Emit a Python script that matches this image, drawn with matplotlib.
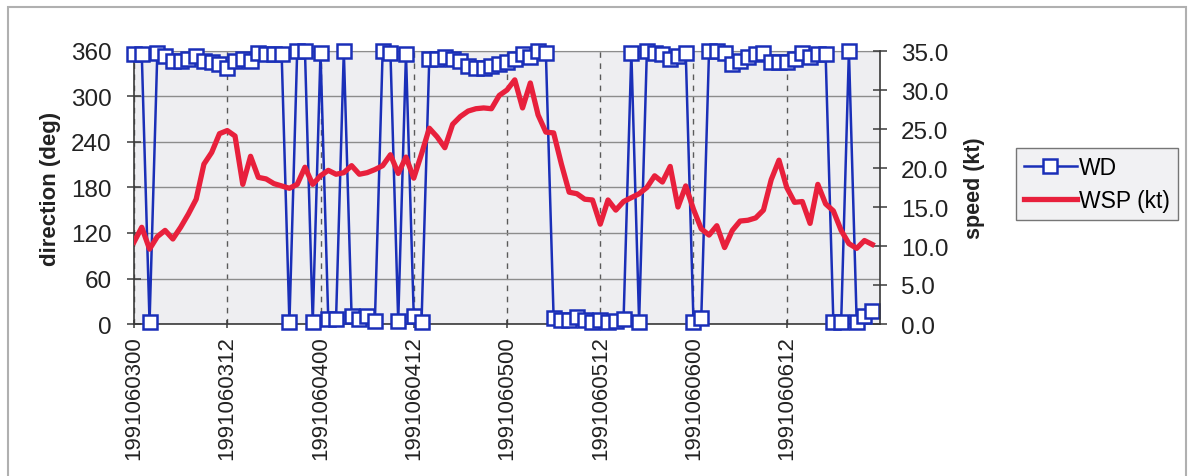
import numpy as np
import matplotlib
matplotlib.use('Agg')
import matplotlib.pyplot as plt
from matplotlib.lines import Line2D
from matplotlib.patches import Rectangle
from matplotlib.ticker import FormatStrFormatter

plt.rcParams['font.family'] = ['Liberation Sans', 'DejaVu Sans']

# hourly observations from 1991060300 to 1991060623
hours = np.arange(96)
tick_pos = [0, 12, 24, 36, 48, 60, 72, 84]
tick_labels = ['1991060300', '1991060312', '1991060400', '1991060412',
               '1991060500', '1991060512', '1991060600', '1991060612']

wd = [356, 356, 2, 358, 354, 347, 347, 349, 354, 347, 345, 343, 338, 347, 349, 347,
      358, 356, 356, 356, 2, 360, 360, 2, 358, 6, 6, 360, 11, 6, 11, 4,
      360, 358, 4, 356, 11, 2, 350, 350, 352, 350, 347, 340, 338, 338, 340, 343,
      345, 350, 356, 352, 360, 358, 8, 5, 5, 9, 5, 3, 5, 3, 4, 6,
      358, 3, 360, 358, 356, 349, 354, 358, 2, 8, 360, 360, 358, 343, 347, 352,
      356, 358, 345, 345, 345, 349, 358, 352, 356, 356, 2, 2, 360, 3, 11, 17]

wsp = [10.5, 12.4, 9.6, 11.2, 12.0, 10.9, 12.4, 14.1, 16.0, 20.5, 22.0, 24.4, 24.8, 24.1, 17.9, 21.5,
       18.8, 18.6, 18.0, 17.7, 17.4, 17.9, 20.1, 17.9, 19.0, 19.7, 19.2, 19.4, 20.3, 19.2, 19.4, 19.8,
       20.3, 21.7, 19.3, 21.4, 18.7, 21.8, 25.1, 24.0, 22.6, 25.6, 26.6, 27.3, 27.6, 27.7, 27.6, 29.3,
       30.0, 31.3, 27.7, 30.9, 26.8, 24.6, 24.5, 20.5, 16.9, 16.7, 16.0, 15.9, 12.8, 15.9, 14.6, 15.7,
       16.2, 16.7, 17.5, 19.0, 18.2, 20.2, 15.0, 17.7, 14.7, 12.2, 11.4, 12.6, 9.8, 12.0, 13.2, 13.3,
       13.6, 14.6, 18.5, 21.0, 17.5, 15.6, 15.7, 12.9, 17.9, 15.4, 14.5, 12.0, 10.3, 9.7, 10.7, 10.2]

dir_ticks = [0, 60, 120, 180, 240, 300, 360]
spd_ticks = [0, 5, 10, 15, 20, 25, 30, 35]

W, H = 1194, 477
fig = plt.figure(figsize=(W / 100, H / 100), dpi=100)
fig.patch.set_facecolor('white')

# outer chart frame
fig.patches.append(Rectangle((8 / W, -0.1), (1186 - 8) / W, 1.1 - 8 / H,
                             transform=fig.transFigure, fill=False,
                             edgecolor='#b0b0b0', lw=1.5))

L, R, T, B = 134, 880, 52, 325
ax = fig.add_axes([L / W, 1 - B / H, (R - L) / W, (B - T) / H])
ax.set_facecolor('#eeeef1')

blue = '#1a2fb8'
red = '#e8203c'
axis_col = '#3a3a3a'

ax.plot(hours, wd, color=blue, lw=1.8, marker='s', markersize=9.5,
        markerfacecolor='white', markeredgecolor=blue, markeredgewidth=1.8,
        clip_on=False, zorder=3)
ax.set_xlim(0, 96)
ax.set_ylim(0, 360)
ax.set_yticks(dir_ticks)
ax.set_xticks(tick_pos)
ax.set_xticklabels(tick_labels, rotation=90, va='top', ha='center')
ax.yaxis.grid(True, color='#8c8c8c', lw=1.0, ls='-')
ax.xaxis.grid(True, color='#5a5a5a', lw=1.0, ls=(0, (4, 4)))
ax.set_axisbelow(True)

for s in ['left', 'bottom']:
    ax.spines[s].set_color(axis_col)
    ax.spines[s].set_linewidth(1.2)
ax.spines['top'].set_color('#8c8c8c')
ax.spines['right'].set_visible(False)

ax.tick_params(axis='y', direction='inout', length=10, width=1.1, colors=axis_col,
               labelsize=17.5, labelcolor='#222222', pad=11)
ax.tick_params(axis='x', direction='inout', length=6, width=1.1, colors=axis_col,
               labelsize=16, labelcolor='#222222', pad=5)
ax.set_ylabel('direction (deg)', fontsize=16, fontweight='bold', color='#222222', labelpad=7)

ax2 = ax.twinx()
ax2.plot(hours, wsp, color=red, lw=3.8, solid_joinstyle='round', zorder=4)
ax2.set_ylim(0, 35)
ax2.set_yticks(spd_ticks)
ax2.yaxis.set_major_formatter(FormatStrFormatter('%.1f'))
for s in ['left', 'top', 'bottom']:
    ax2.spines[s].set_visible(False)
ax2.spines['right'].set_color(axis_col)
ax2.spines['right'].set_linewidth(1.2)
ax2.tick_params(axis='y', direction='inout', length=10, width=1.1, colors=axis_col,
                labelsize=17.5, labelcolor='#222222', pad=10)
ax2.set_ylabel('speed (kt)', fontsize=15.5, fontweight='bold', color='#222222', labelpad=11)

handles = [Line2D([], [], color=blue, lw=1.8, marker='s', markersize=10,
                  markerfacecolor='white', markeredgecolor=blue, markeredgewidth=1.8),
           Line2D([], [], color=red, lw=3.8)]
leg = fig.legend(handles, ['WD', 'WSP (kt)'], loc='upper left',
                 bbox_to_anchor=(1016 / W, 1 - 149 / H), frameon=True, fancybox=False,
                 edgecolor='#555555', facecolor='#eeeef1', fontsize=16.5,
                 handlelength=2.3, handletextpad=0.1, borderpad=0.35, labelspacing=0.45,
                 borderaxespad=0)
leg.get_frame().set_linewidth(1.0)

fig.savefig('out.png', dpi=100, facecolor='white')
